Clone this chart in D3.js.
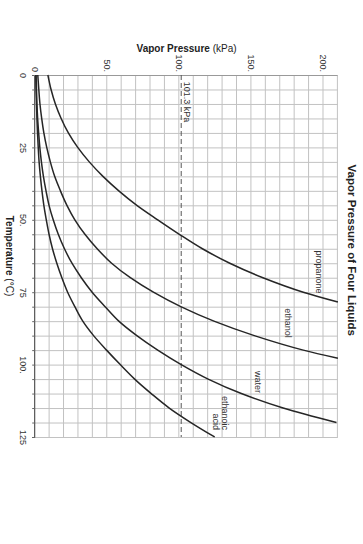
<!DOCTYPE html>
<html>
<head>
<meta charset="utf-8">
<script src="https://cdnjs.cloudflare.com/ajax/libs/d3/7.8.5/d3.min.js"></script>
<style>
  body { margin: 0; background: #fff; }
  svg { display: block; font-family: "Liberation Sans", Arial, Helvetica, sans-serif; }
  .grid line { stroke: #c2c2c2; stroke-width: 1; }
  .grid path { display: none; }
  .line { fill: none; stroke: #262626; stroke-width: 1.5; }
  .axis text { fill: #333; font-size: 9px; }
</style>
</head>
<body>
<div id="chart"></div>
<script>
// temperature (°C) -> vapor pressure (kPa)
const propanoneT = [0, 5, 10, 15, 20, 25, 30, 35, 40, 45, 50, 55, 60, 65, 70, 75, 78.4];
const propanoneP = [8.8, 11, 14, 18, 23, 29.5, 37.5, 47, 58, 70.5, 85, 100, 116, 135, 158, 186, 210];

const ethanolT = [0, 5, 10, 15, 20, 25, 30, 35, 40, 45, 50, 55, 60, 65, 70, 75, 80, 85, 90, 95, 97.8];
const ethanolP = [1.8, 2.5, 3.3, 4.5, 6, 8, 10.5, 13.5, 17.5, 22, 27.5, 34.5, 43, 53, 66, 82, 101, 124, 152, 186, 210];

const waterT = [0, 5, 10, 15, 20, 25, 30, 35, 40, 45, 50, 55, 60, 65, 70, 75, 80, 85, 90, 95, 100, 105, 110, 115, 120];
const waterP = [0.6, 0.9, 1.2, 1.7, 2.4, 3.2, 4.3, 5.7, 7.5, 9.6, 12.5, 16, 20.3, 25.5, 32, 39.5, 48.5, 58, 70.5, 85, 101.3, 120, 143, 172, 209];

const aceticT = [0, 5, 10, 15, 20, 25, 30, 35, 40, 45, 50, 55, 60, 65, 70, 75, 80, 85, 90, 95, 100, 105, 110, 115, 120, 125];
const aceticP = [0.4, 0.6, 0.9, 1.2, 1.6, 2.1, 2.7, 3.6, 4.7, 6, 7.7, 9.6, 12, 15, 18.5, 22.5, 27.5, 33, 40.5, 49.5, 59, 69, 80.5, 93, 108, 124.5];

const seriesNames = ["propanone", "ethanol", "water", "ethanoic acid"];

const tempTicks = [0, 25, 50, 75, 100, 125];
const tempTickLabels = ["0", "25", "50.", "75", "100.", "125"];
const pressureTicks = [0, 50, 100, 150, 200];
const pressureTickLabels = ["0", "50.", "100.", "150.", "200."];

const atmPressure = 101.3;

// the chart is drawn the usual way (temperature across, pressure up)
// and then turned a quarter turn clockwise, like the scan
const W = 363, H = 544;
const plotW = 362,    // temperature length
      plotH = 302.7;  // pressure length
const originX = 35.2, originY = 75;

const x = d3.scaleLinear().domain([0, 125]).range([0, plotW]);
const y = d3.scaleLinear().domain([0, 210]).range([plotH, 0]);

const svg = d3.select('#chart').append('svg')
    .attr('width', W)
    .attr('height', H);

svg.append('rect').attr('width', W).attr('height', H).attr('fill', '#fff');

const g = svg.append('g')
    .attr('transform', 'translate(' + (originX + plotH) + ',' + originY + ') rotate(90)');

// grid
g.append('g')
    .attr('class', 'grid')
    .attr('transform', 'translate(0,' + plotH + ')')
    .call(d3.axisBottom(x).tickValues(d3.range(0, 126, 5)).tickSize(-plotH).tickFormat(''));

g.append('g')
    .attr('class', 'grid')
    .call(d3.axisLeft(y).tickValues(d3.range(0, 211, 10)).tickSize(-plotW).tickFormat(''));

// temperature axis (left edge in the picture)
const tAxis = g.append('g')
    .attr('class', 'axis')
    .attr('transform', 'translate(0,' + plotH + ')')
    .call(d3.axisBottom(x)
      .tickValues(d3.range(0, 126, 5))
      .tickSize(3)
      .tickPadding(6)
      .tickFormat(function(d) {
        const i = tempTicks.indexOf(d);
        return i < 0 ? '' : tempTickLabels[i];
      }));
tAxis.select('.domain').attr('stroke', '#444');
tAxis.selectAll('.tick line').attr('stroke', '#666');

// pressure axis (top edge in the picture)
const pAxis = g.append('g')
    .attr('class', 'axis')
    .call(d3.axisLeft(y)
      .tickValues(pressureTicks)
      .tickSize(0)
      .tickPadding(3)
      .tickFormat(function(d, i) { return pressureTickLabels[i]; }));
pAxis.select('.domain').attr('stroke', '#999');

// 101.3 kPa reference
g.append('line')
    .attr('x1', x(0)).attr('x2', x(125))
    .attr('y1', y(atmPressure)).attr('y2', y(atmPressure))
    .attr('stroke', '#555')
    .attr('stroke-width', 1)
    .attr('stroke-dasharray', '5,3');

g.append('text')
    .attr('x', x(2.3))
    .attr('y', y(atmPressure) - 2.5)
    .attr('font-size', 9)
    .attr('fill', '#333')
    .text('101.3 kPa');

// curves
const line = d3.line()
    .x(function(d) { return x(d[0]); })
    .y(function(d) { return y(d[1]); })
    .curve(d3.curveMonotoneX);

[[propanoneT, propanoneP], [ethanolT, ethanolP], [waterT, waterP], [aceticT, aceticP]]
  .forEach(function(s) {
    g.append('path')
        .datum(d3.zip(s[0], s[1]))
        .attr('class', 'line')
        .attr('d', line);
  });

// curve names
const curveLabels = [
  { text: seriesNames[0], t: 68, p: 195, anchor: 'middle' },
  { text: seriesNames[1], t: 85.6, p: 173.3, anchor: 'middle' },
  { text: seriesNames[2], t: 106, p: 152.5, anchor: 'middle' },
  { text: 'ethanoic', t: 122.6, p: 129.7, anchor: 'end' },
  { text: 'acid', t: 122.6, p: 123.3, anchor: 'end' }
];
g.selectAll('.curve-label')
    .data(curveLabels)
  .enter().append('text')
    .attr('class', 'curve-label')
    .attr('x', function(d) { return x(d.t); })
    .attr('y', function(d) { return y(d.p); })
    .attr('text-anchor', function(d) { return d.anchor; })
    .attr('font-size', 9)
    .attr('fill', '#333')
    .text(function(d) { return d.text; });

// axis titles
const tTitle = g.append('text')
    .attr('x', x(62.5))
    .attr('y', plotH + 29.5)
    .attr('text-anchor', 'middle')
    .attr('font-size', 10)
    .attr('font-weight', 'bold')
    .attr('fill', '#222');
tTitle.append('tspan').text('Temperature ');
tTitle.append('tspan').attr('font-weight', 'normal').text('(°C)');

const pTitle = g.append('text')
    .attr('transform', 'translate(-23,' + y(105) + ') rotate(-90)')
    .attr('text-anchor', 'middle')
    .attr('font-size', 10)
    .attr('font-weight', 'bold')
    .attr('fill', '#222');
pTitle.append('tspan').text('Vapor Pressure ');
pTitle.append('tspan').attr('font-weight', 'normal').text('(kPa)');

// chart title
g.append('text')
    .attr('x', x(60.5))
    .attr('y', -10)
    .attr('text-anchor', 'middle')
    .attr('font-size', 11.5)
    .attr('font-weight', 'bold')
    .attr('fill', '#222')
    .text('Vapor Pressure of Four Liquids');
</script>
</body>
</html>
